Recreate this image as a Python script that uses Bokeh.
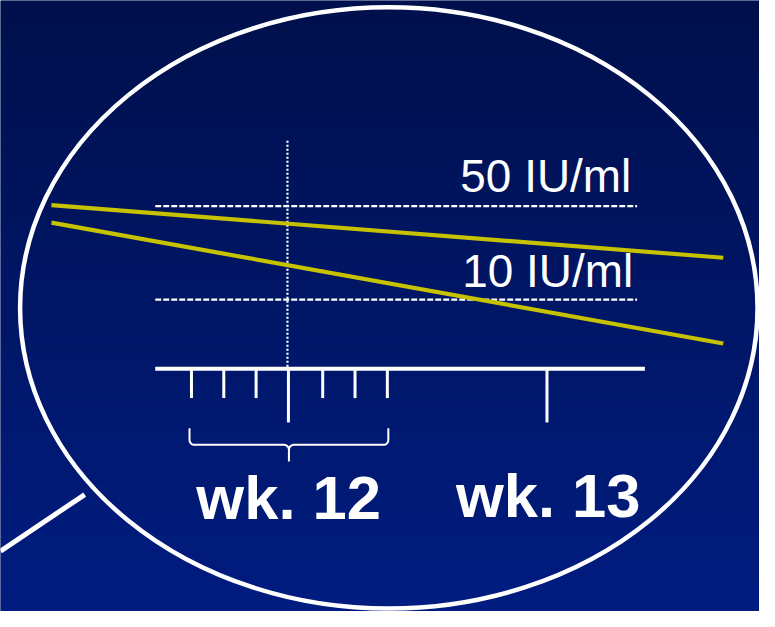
import numpy as np
from bokeh.plotting import figure
from bokeh.models import Range1d
from bokeh.core.properties import value
from bokeh.embed import file_html
from bokeh.resources import INLINE

# ---- diagram data (reference pixel space 775x627, y downward) ----
bg_top = (0, 16, 76)
bg_bottom = (0, 28, 128)

ellipse_center = (396.5, 315.5)
ellipse_size = (753, 617)

callout_x = [0, 86]
callout_y = [565, 507]

yellow_x0 = [52, 52]
yellow_y0 = [210, 228]
yellow_x1 = [738, 738]
yellow_y1 = [264, 352]

threshold_y = [211, 307]
threshold_x0 = 158
threshold_x1 = 650
threshold_labels = ["50 IU/ml", "10 IU/ml"]
label_right = [644, 646]
label_base = [197, 295]

marker_x = 293
marker_y = [144, 378]

axis_y = 378
axis_x = [158, 658]
minor_ticks = [195, 228, 261, 329, 362, 395]
major_ticks = [294, 558]
minor_len = 30
major_len = 55

brace_x = [193, 396]
brace_y = [439, 456, 473]

week_labels = ["wk. 12", "wk. 13"]
week_x = [200, 465]
week_base = [533, 531]

REF_W, REF_H = 775, 627
W, H = 759, 611
scale = (W / REF_W + H / REF_H) / 2

p = figure(width=W, height=H, output_backend="svg", toolbar_location=None,
           x_range=Range1d(0, REF_W), y_range=Range1d(REF_H, 0),
           min_border=0)
p.axis.visible = False
p.grid.visible = False
p.outline_line_color = None
p.background_fill_color = "#001560"
p.border_fill_color = "#001560"

# gradient background
n = 160
edges = np.linspace(0, REF_H, n + 1)
t = (edges[:-1] + edges[1:]) / 2 / REF_H
cols = []
for tt in t:
    r = int(round(bg_top[0] + (bg_bottom[0] - bg_top[0]) * tt))
    g = int(round(bg_top[1] + (bg_bottom[1] - bg_top[1]) * tt))
    b = int(round(bg_top[2] + (bg_bottom[2] - bg_top[2]) * tt))
    cols.append("#%02x%02x%02x" % (r, g, b))
p.quad(left=0, right=REF_W, top=edges[:-1], bottom=edges[1:] + 0.6,
       fill_color=cols, line_color=None)

# ellipse & callout
p.ellipse(x=[ellipse_center[0]], y=[ellipse_center[1]],
          width=[ellipse_size[0]], height=[ellipse_size[1]],
          fill_color=None, line_color="white", line_width=4.5)
p.line(callout_x, callout_y, line_color="white", line_width=5)

# thresholds
for yv in threshold_y:
    p.line([threshold_x0, threshold_x1], [yv, yv], line_color="white",
           line_width=2.2, line_dash="6 2")

# dotted marker
p.line([marker_x, marker_x], marker_y, line_color="white", line_width=2.2,
       line_dash="2 2")

# yellow decay lines
p.segment(x0=yellow_x0, y0=yellow_y0, x1=yellow_x1, y1=yellow_y1,
          line_color="#c6c200", line_width=4.2)

# axis
p.line(axis_x, [axis_y, axis_y], line_color="white", line_width=4)
p.segment(x0=minor_ticks, y0=[axis_y] * len(minor_ticks), x1=minor_ticks,
          y1=[axis_y + minor_len] * len(minor_ticks), line_color="white", line_width=3)
p.segment(x0=major_ticks, y0=[axis_y] * len(major_ticks), x1=major_ticks,
          y1=[axis_y + major_len] * len(major_ticks), line_color="white", line_width=3)

# brace
bx0, bx1 = brace_x
by0, by1, by2 = brace_y
bm = (bx0 + bx1) / 2
r = 5
ang = np.linspace(0, np.pi / 2, 8)
left_corner_x = bx0 + r - r * np.cos(ang)
left_corner_y = by1 - r + r * np.sin(ang)
mid1_x = bm - r + r * np.sin(ang)
mid1_y = by1 + r - r * np.cos(ang)
mid2_x = bm + r - r * np.sin(ang[::-1])
mid2_y = by1 + r - r * np.cos(ang[::-1])
right_corner_x = bx1 - r + r * np.cos(ang[::-1])
right_corner_y = by1 - r + r * np.sin(ang[::-1])
bxs = [bx0] + list(left_corner_x) + list(mid1_x) + [bm] + list(mid2_x) + list(right_corner_x) + [bx1]
bys = [by0] + list(left_corner_y) + list(mid1_y) + [by2] + list(mid2_y) + list(right_corner_y) + [by0]
p.line(bxs, bys, line_color="white", line_width=2)

# labels (drawn with middle baseline: centre sits ~0.36 em above the alphabetic baseline)
lab_size = 47
wk_size = 63
p.text(x=label_right, y=[b - 0.36 * lab_size for b in label_base], text=threshold_labels,
       text_align="right", text_baseline="middle", text_color="white",
       text_font=value("Liberation Sans"), text_font_size=f"{lab_size * scale:.1f}px")
p.text(x=week_x, y=[b - 0.36 * wk_size for b in week_base], text=week_labels,
       text_align="left", text_baseline="middle", text_color="white",
       text_font=value("Liberation Sans"), text_font_style="bold",
       text_font_size=f"{wk_size * scale:.1f}px")

open("out.html", "w").write(file_html(p, INLINE))
